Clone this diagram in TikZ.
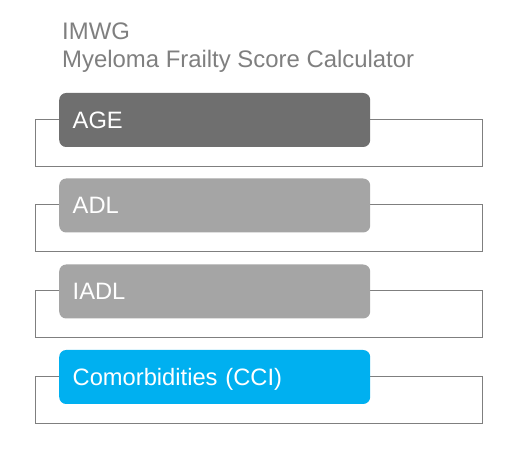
\documentclass[tikz,border=0pt]{standalone}
\usepackage{fontspec}
\setmainfont{Liberation Sans}
\usetikzlibrary{backgrounds}

\definecolor{agegray}{HTML}{6F6F6F}
\definecolor{adlgray}{HTML}{A5A5A5}
\definecolor{ccicyan}{HTML}{00B0F0}
\definecolor{framegray}{HTML}{7F7F7F}

\tikzset{
  title/.style={anchor=base west,inner sep=0,text=framegray,font=\fontsize{23.9}{27}\selectfont},
  scorebox/.style={anchor=west,rounded corners=7pt,minimum width=311pt,minimum height=54pt,
    inner xsep=13.5pt,text width=284pt,align=left,text height=16.8pt,text depth=0pt,
    text=white,font=\fontsize{23.7}{27}\selectfont},
  frame/.style={draw=framegray,line width=1pt}
}

\begin{document}
\begin{tikzpicture}[x=1pt,y=-1pt]
  \useasboundingbox (0,0) rectangle (512,454);

  \node[title] (imwg)  at (62,39.5) {IMWG};
  \node[title] (calc)  at (62,67.5) {Myeloma Frailty Score Calculator};

  \begin{scope}[every node/.style={scorebox}]
    \node[fill=agegray] (age)  at (59,120)   {AGE};
    \node[fill=adlgray] (adl)  at (59,205.5) {ADL};
    \node[fill=adlgray] (iadl) at (59,291.5) {IADL};
    \node[fill=ccicyan] (cci)  at (59,377)   {Comorbidities (CCI)};
  \end{scope}

  % frames behind the boxes
  \begin{scope}[on background layer]
    \foreach \b in {age,adl,iadl,cci}
      \draw[frame] ([xshift=-23.5pt,yshift=0.5pt]\b.west) rectangle ([xshift=112pt,yshift=-46.5pt]\b.east);
  \end{scope}

\end{tikzpicture}
\end{document}
